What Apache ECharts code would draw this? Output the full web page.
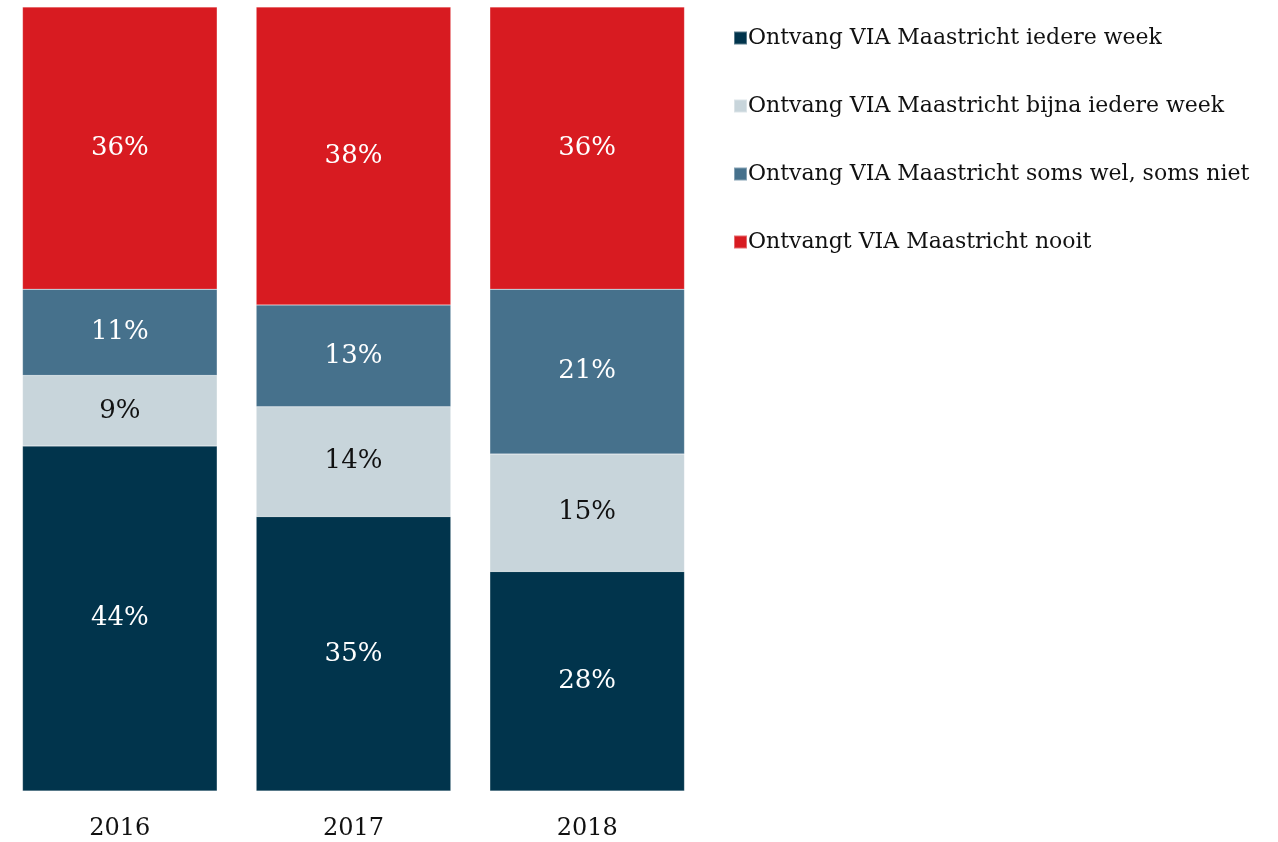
<!DOCTYPE html>
<html>
<head>
<meta charset="utf-8">
<script src="https://cdn.jsdelivr.net/npm/echarts@6/dist/echarts.min.js"></script>
<style>
  html, body { margin: 0; padding: 0; background: #fff; }
  #chart { width: 1278px; height: 842px; }
</style>
</head>
<body>
<div id="chart"></div>
<script>
const years = ["2016", "2017", "2018"];
const seriesNames = [
  "Ontvang VIA Maastricht iedere week",
  "Ontvang VIA Maastricht bijna iedere week",
  "Ontvang VIA Maastricht soms wel, soms niet",
  "Ontvangt VIA Maastricht nooit",
];
const iedereWeek = [44, 35, 28];
const bijnaIedereWeek = [9, 14, 15];
const somsWelSomsNiet = [11, 13, 21];
const nooit = [36, 38, 36];

const colors = ["#01344c", "#c8d5db", "#46718c", "#d81b21"];
const labelColors = ["#ffffff", "#111111", "#ffffff", "#ffffff"];
const fontFam = "Georgia, 'DejaVu Serif', serif";

let mychart = echarts.init(document.getElementById("chart"));

const values = [iedereWeek, bijnaIedereWeek, somsWelSomsNiet, nooit];

let option = {
  animation: false,
  grid: { left: 3, right: 574, top: 7, bottom: 51 },
  legend: {
    orient: "vertical",
    left: 728,
    top: 22,
    itemWidth: 13,
    itemHeight: 13,
    itemGap: 46,
    icon: "rect",
    textStyle: { fontFamily: fontFam, fontSize: 22, color: "#111", padding: [0, 0, 0, -4] },
    data: seriesNames,
  },
  xAxis: {
    type: "category",
    data: years,
    axisLine: { show: false },
    axisTick: { show: false },
    axisLabel: { fontFamily: fontFam, fontSize: 24, color: "#111", margin: 26 },
  },
  yAxis: {
    type: "value",
    min: 0,
    max: 100,
    show: false,
    splitLine: { show: false },
  },
  series: seriesNames.map((name, i) => ({
    name: name,
    type: "bar",
    stack: "total",
    barCategoryGap: "16.7%",
    data: values[i],
    itemStyle: { color: colors[i], borderColor: "rgba(255,255,255,0.35)", borderWidth: 0.5 },
    label: {
      show: true,
      position: "inside",
      formatter: "{c}%",
      fontFamily: fontFam,
      fontSize: 26,
      color: labelColors[i],
    },
  })),
};
mychart.setOption(option);
</script>
</body>
</html>
